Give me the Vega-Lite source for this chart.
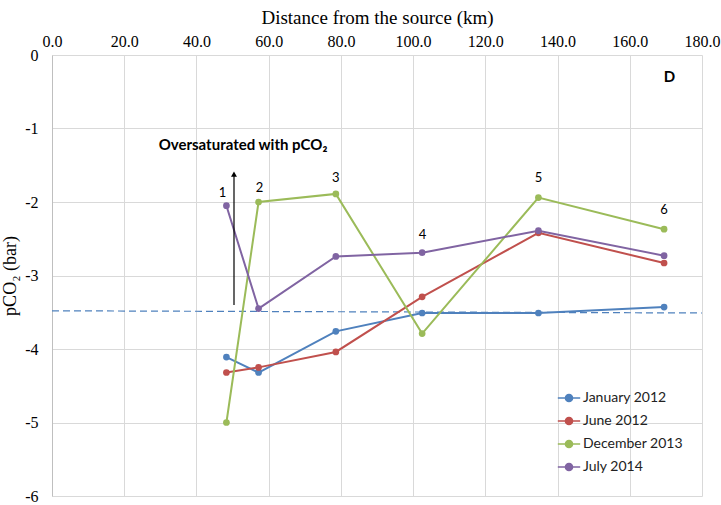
{
  "$schema": "https://vega.github.io/schema/vega-lite/v6.json",
  "width": 650,
  "height": 441,
  "autosize": {"type": "none"},
  "padding": {"left": 52, "top": 55, "right": 19, "bottom": 9},
  "background": "white",
  "config": {
    "view": {"stroke": null},
    "axis": {"gridColor": "#d9d9d9", "domainColor": "#bfbfbf", "ticks": false, "labelFont": "Liberation Serif", "titleFont": "Liberation Serif", "labelColor": "black", "titleColor": "black", "labelFontSize": 16, "titleFontSize": 19, "titleFontWeight": "normal", "labelFlush": false}
  },
  "datasets": {
    "series": [
      {"km": 48.3, "p": -4.11, "s": "January 2012"},
      {"km": 57.2, "p": -4.32, "s": "January 2012"},
      {"km": 78.6, "p": -3.76, "s": "January 2012"},
      {"km": 102.5, "p": -3.51, "s": "January 2012"},
      {"km": 134.7, "p": -3.51, "s": "January 2012"},
      {"km": 169.5, "p": -3.43, "s": "January 2012"},
      {"km": 48.3, "p": -4.32, "s": "June 2012"},
      {"km": 57.2, "p": -4.25, "s": "June 2012"},
      {"km": 78.6, "p": -4.04, "s": "June 2012"},
      {"km": 102.5, "p": -3.29, "s": "June 2012"},
      {"km": 134.7, "p": -2.42, "s": "June 2012"},
      {"km": 169.5, "p": -2.83, "s": "June 2012"},
      {"km": 48.3, "p": -5.0, "s": "December 2013"},
      {"km": 57.2, "p": -2.0, "s": "December 2013"},
      {"km": 78.6, "p": -1.89, "s": "December 2013"},
      {"km": 102.5, "p": -3.79, "s": "December 2013"},
      {"km": 134.7, "p": -1.94, "s": "December 2013"},
      {"km": 169.5, "p": -2.37, "s": "December 2013"},
      {"km": 48.3, "p": -2.05, "s": "July 2014"},
      {"km": 57.2, "p": -3.45, "s": "July 2014"},
      {"km": 78.6, "p": -2.74, "s": "July 2014"},
      {"km": 102.5, "p": -2.69, "s": "July 2014"},
      {"km": 134.7, "p": -2.39, "s": "July 2014"},
      {"km": 169.5, "p": -2.73, "s": "July 2014"}
    ],
    "ref": [{"km": 0, "p": -3.48}, {"km": 180, "p": -3.51}],
    "sites": [
      {"km": 47.2, "p": -1.88, "t": "1"},
      {"km": 57.5, "p": -1.81, "t": "2"},
      {"km": 78.6, "p": -1.68, "t": "3"},
      {"km": 102.6, "p": -2.45, "t": "4"},
      {"km": 134.7, "p": -1.67, "t": "5"},
      {"km": 169.5, "p": -2.11, "t": "6"}
    ],
    "arrow": [{"km": 50.4, "p": -3.40, "p2": -1.62}],
    "notes": [
      {"km": 52.9, "p": -1.23, "t": "Oversaturated with pCO₂"},
      {"km": 171, "p": -0.3, "t": "D"}
    ]
  },
  "layer": [
    {
      "data": {"name": "ref"},
      "mark": {"type": "line", "color": "#4F81BD", "strokeDash": [7, 4], "strokeWidth": 1.2},
      "encoding": {
        "x": {"field": "km", "type": "quantitative", "scale": {"domain": [0, 180]}, "axis": {"orient": "top", "values": [0, 20, 40, 60, 80, 100, 120, 140, 160, 180], "format": ".1f", "title": "Distance from the source (km)", "labelPadding": 6, "titlePadding": 6, "domain": false}},
        "y": {"field": "p", "type": "quantitative", "scale": {"domain": [-6, 0]}, "axis": {"values": [-6, -5, -4, -3, -2, -1, 0], "labelExpr": "'' + datum.value", "title": "pCO₂ (bar)", "titleFontSize": 18, "labelPadding": 14, "titlePadding": 5}}
      }
    },
    {
      "data": {"name": "series"},
      "mark": {"type": "line", "strokeWidth": 2, "point": {"filled": true, "size": 45}},
      "encoding": {
        "x": {"field": "km", "type": "quantitative"},
        "y": {"field": "p", "type": "quantitative"},
        "color": {"field": "s", "type": "nominal", "scale": {"domain": ["January 2012", "June 2012", "December 2013", "July 2014"], "range": ["#4F81BD", "#C0504D", "#9BBB59", "#8064A2"]},
          "legend": {"title": null, "orient": "none", "legendX": 505, "legendY": 331, "symbolType": "M-1,0L1,0M-0.32,0A0.32,0.32 0 1,1 0.32,0A0.32,0.32 0 1,1 -0.32,0Z", "symbolSize": 500, "symbolStrokeWidth": 1.5, "labelFont": "Lato", "labelFontSize": 14, "labelColor": "#222", "rowPadding": 4, "labelOffset": 2}}
      }
    },
    {
      "data": {"name": "arrow"},
      "mark": {"type": "rule", "color": "black", "strokeWidth": 1.2},
      "encoding": {"x": {"field": "km", "type": "quantitative"}, "y": {"field": "p", "type": "quantitative"}, "y2": {"field": "p2"}}
    },
    {
      "data": {"name": "arrow"},
      "mark": {"type": "point", "shape": "triangle-up", "filled": true, "color": "black", "size": 35, "opacity": 1},
      "encoding": {"x": {"field": "km", "type": "quantitative"}, "y": {"field": "p2", "type": "quantitative"}}
    },
    {
      "data": {"name": "sites"},
      "mark": {"type": "text", "font": "Lato", "fontSize": 13, "color": "black"},
      "encoding": {"x": {"field": "km", "type": "quantitative"}, "y": {"field": "p", "type": "quantitative"}, "text": {"field": "t"}}
    },
    {
      "data": {"name": "notes"},
      "mark": {"type": "text", "font": "Lato", "fontSize": 15, "fontWeight": "bold", "color": "black"},
      "encoding": {"x": {"field": "km", "type": "quantitative"}, "y": {"field": "p", "type": "quantitative"}, "text": {"field": "t"}}
    }
  ]
}
